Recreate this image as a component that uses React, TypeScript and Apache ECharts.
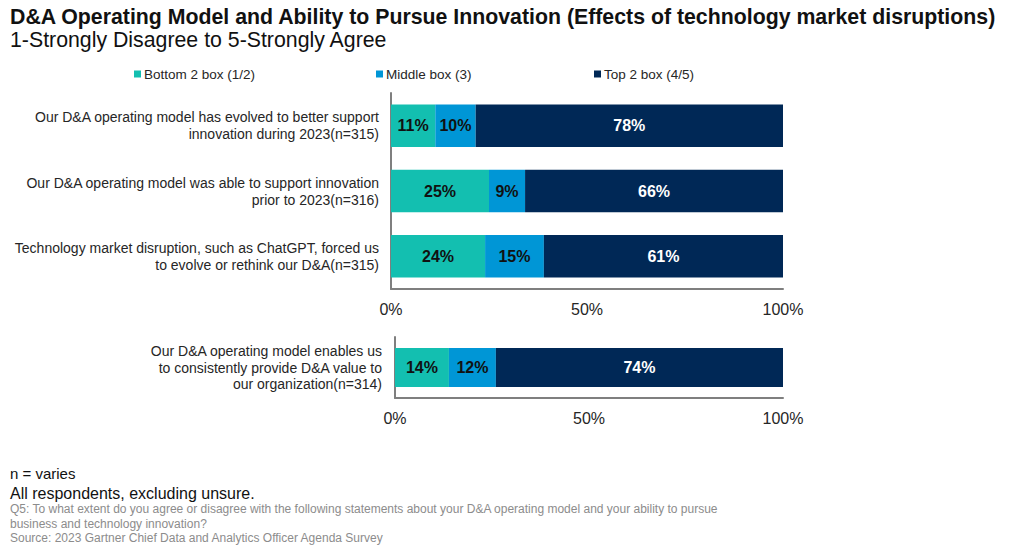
import React, { useEffect, useRef } from "react";
import * as echarts from "echarts";

const titleText = "D&A Operating Model and Ability to Pursue Innovation (Effects of technology market disruptions)";
const subtitleText = "1-Strongly Disagree to 5-Strongly Agree";
const seriesNames = ["Bottom 2 box (1/2)", "Middle box (3)", "Top 2 box (4/5)"];
const seriesColors = ["#13BFB0", "#0096D6", "#002856"];
const labelColors = ["#111111", "#111111", "#ffffff"];

const categoriesTop = [
  "Our D&A operating model has evolved to better support\ninnovation during 2023(n=315)",
  "Our D&A operating model was able to support innovation\nprior to 2023(n=316)",
  "Technology market disruption, such as ChatGPT, forced us\nto evolve or rethink our D&A(n=315)",
];
const bottom2Top = [11.3, 25.0, 24.0];
const middleTop = [10.3, 9.2, 15.0];
const top2Top = [78.4, 65.8, 61.0];

const categoriesBottom = [
  "Our D&A operating model enables us\nto consistently provide D&A value to\nour organization(n=314)",
];
const bottom2Bottom = [13.9];
const middleBottom = [12.1];
const top2Bottom = [74.0];

const xTicks = { min: 0, max: 100, interval: 50 };

const footLines = [
  "n = varies",
  "All respondents, excluding unsure.",
];
const noteLines = [
  "Q5: To what extent do you agree or disagree with the following statements about your D&A operating model and your ability to pursue",
  "business and technology innovation?",
  "Source: 2023 Gartner Chief Data and Analytics Officer Agenda Survey",
];

const FONT = "'Liberation Sans', Arial, sans-serif";

export default function App() {
  const ref = useRef<HTMLDivElement>(null);
  useEffect(() => {
    if (!ref.current) return;
    const chart = echarts.init(ref.current, undefined, { renderer: "svg" });
    const topData = [bottom2Top, middleTop, top2Top];
    const botData = [bottom2Bottom, middleBottom, top2Bottom];
    const mkSeries = (data: number[][], idx: number, stack: string, fs: number) =>
      data.map((vals, i) => ({
        name: seriesNames[i],
        type: "bar",
        stack,
        xAxisIndex: idx,
        yAxisIndex: idx,
        barWidth: idx === 0 ? "65%" : "64%",
        itemStyle: { color: seriesColors[i] },
        label: {
          show: true,
          position: "inside",
          color: labelColors[i],
          fontSize: fs,
          fontWeight: "bold",
          fontFamily: FONT,
          formatter: (p: any) => Math.round(p.value) + "%",
        },
        data: vals,
      }));

    const axisLine = { show: true, lineStyle: { color: "#7f7f7f", width: 2 } };
    const xAxisBase = (gridIndex: number) => ({
      type: "value",
      gridIndex,
      min: xTicks.min,
      max: xTicks.max,
      interval: xTicks.interval,
      axisLine,
      axisTick: { show: false },
      splitLine: { show: false },
      axisLabel: {
        formatter: "{value}%",
        fontSize: 16,
        color: "#262626",
        fontFamily: FONT,
        margin: 12,
      },
    });

    const legendXs = [134, 376, 594];

    chart.setOption({
      animation: false,
      backgroundColor: "#ffffff",
      legend: seriesNames.map((n, i) => ({
        data: [n],
        left: legendXs[i],
        top: 67,
        icon: "rect",
        itemWidth: 7,
        itemHeight: 7,
        itemGap: 0,
        padding: 0,
        textStyle: { fontSize: 13.5, color: "#262626", fontFamily: FONT, padding: [0, 0, 0, -2] },
      })),
      grid: [
        { left: 391, top: 93, width: 392, height: 196 },
        { left: 395, top: 337, width: 388, height: 61 },
      ],
      xAxis: [xAxisBase(0), xAxisBase(1)],
      yAxis: [
        {
          type: "category",
          gridIndex: 0,
          inverse: true,
          data: categoriesTop,
          axisLine,
          axisTick: { show: false },
          axisLabel: {
            fontSize: 14,
            lineHeight: 17,
            color: "#262626",
            fontFamily: FONT,
            margin: 12,
            align: "right",
          },
        },
        {
          type: "category",
          gridIndex: 1,
          inverse: true,
          data: categoriesBottom,
          axisLine,
          axisTick: { show: false },
          axisLabel: {
            fontSize: 14,
            lineHeight: 16.5,
            color: "#262626",
            fontFamily: FONT,
            margin: 13,
            align: "right",
          },
        },
      ],
      series: [
        ...mkSeries(topData, 0, "top", 16),
        ...mkSeries(botData, 1, "bottom", 16),
      ],
      graphic: [
        {
          type: "text",
          left: 10,
          top: 6,
          style: { text: titleText, font: `bold 21.3px ${FONT}`, fill: "#111111" },
        },
        {
          type: "text",
          left: 10,
          top: 29,
          style: { text: subtitleText, font: `21.3px ${FONT}`, fill: "#111111" },
        },
        {
          type: "text",
          left: 10,
          top: 466,
          style: { text: footLines[0], font: `15px ${FONT}`, fill: "#111111" },
        },
        {
          type: "text",
          left: 10,
          top: 485,
          style: { text: footLines[1], font: `16px ${FONT}`, fill: "#111111" },
        },
        ...noteLines.map((t, i) => ({
          type: "text",
          left: 10,
          top: 503 + i * 14.5,
          style: { text: t, font: `12px ${FONT}`, fill: "#8c8c8c" },
        })),
      ],
    });
    return () => chart.dispose();
  }, []);
  return (
    <div
      ref={ref}
      style={{ position: "absolute", left: 0, top: 0, width: 1021, height: 547 }}
    />
  );
}
